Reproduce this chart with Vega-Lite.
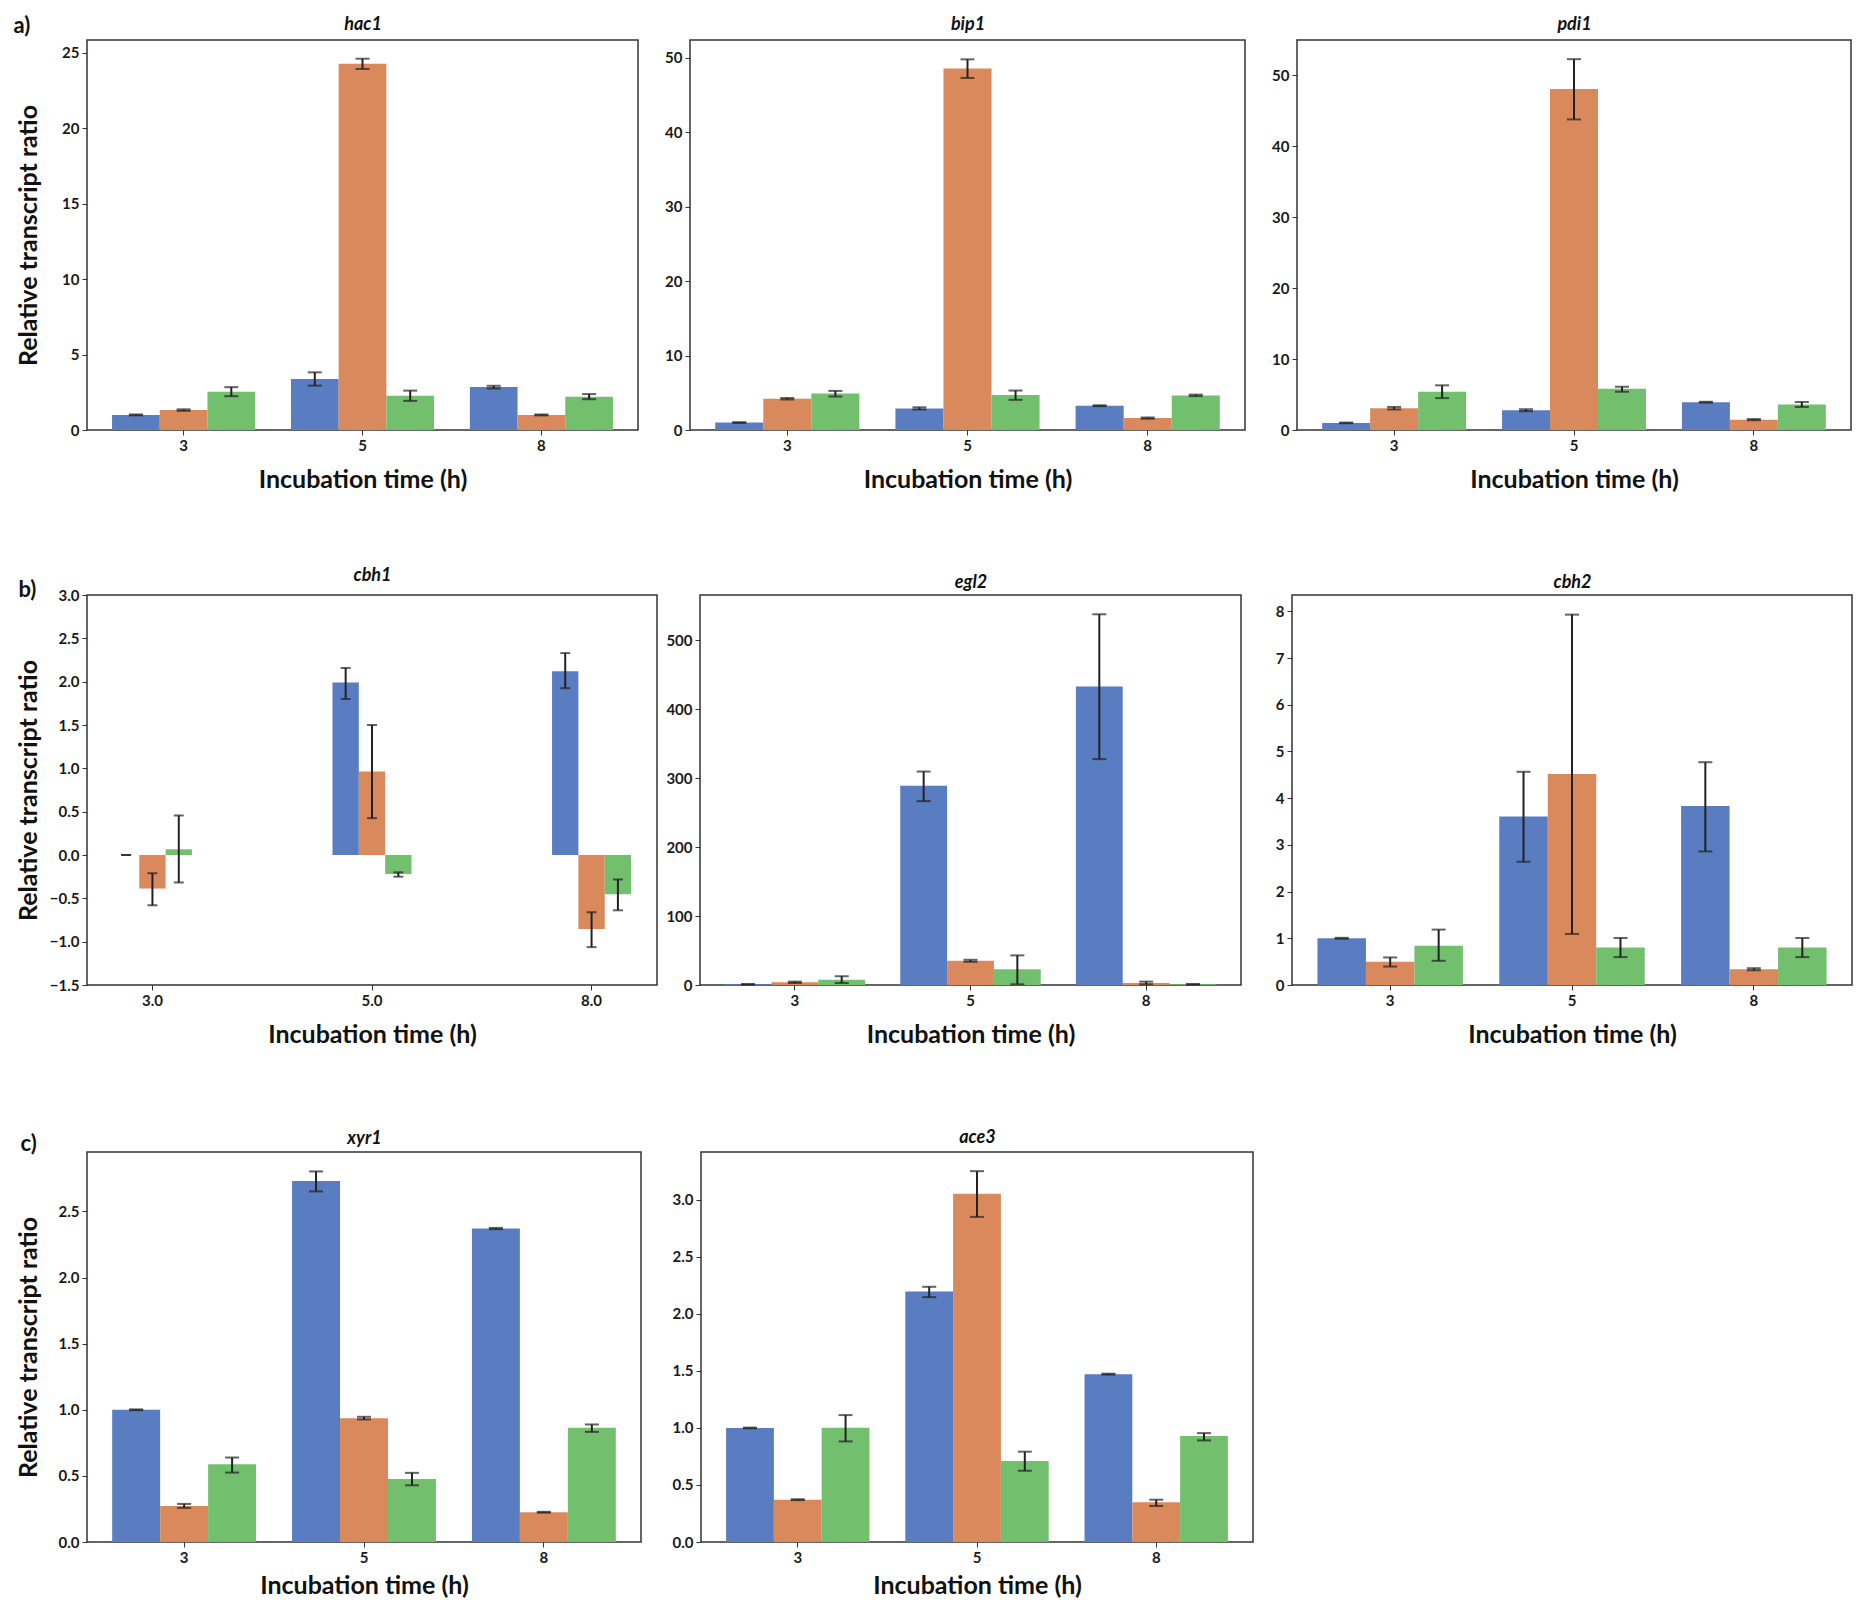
{
  "$schema": "https://vega.github.io/schema/vega-lite/v6.json",
  "background": "white",
  "padding": {"left": 12, "top": 13, "right": 4, "bottom": 4},
  "config": {
    "font": "Lato",
    "view": {"stroke": "#333333", "strokeWidth": 1.5},
    "axis": {"labelFont": "Lato", "labelFontSize": 15, "labelFontWeight": "bold", "labelColor": "#1a1a1a", "titleFont": "Lato", "titleFontSize": 25, "titleFontWeight": "bold", "titleColor": "#111111", "tickColor": "#333333", "tickSize": 5, "domain": false, "grid": false, "labelPadding": 3},
    "axisX": {"labelAngle": 0, "titlePadding": 14},
    "bar": {"stroke": null}
  },
  "datasets": {
    "d": [
      {"gene": "hac1", "time": "3", "cond": "c1", "value": 1.0, "lo": 0.97, "hi": 1.03},
      {"gene": "hac1", "time": "3", "cond": "c2", "value": 1.32, "lo": 1.27, "hi": 1.37},
      {"gene": "hac1", "time": "3", "cond": "c3", "value": 2.54, "lo": 2.24, "hi": 2.84},
      {"gene": "hac1", "time": "5", "cond": "c1", "value": 3.38, "lo": 2.94, "hi": 3.82},
      {"gene": "hac1", "time": "5", "cond": "c2", "value": 24.27, "lo": 23.92, "hi": 24.6},
      {"gene": "hac1", "time": "5", "cond": "c3", "value": 2.27, "lo": 1.93, "hi": 2.61},
      {"gene": "hac1", "time": "8", "cond": "c1", "value": 2.85, "lo": 2.75, "hi": 2.93},
      {"gene": "hac1", "time": "8", "cond": "c2", "value": 1.0, "lo": 0.97, "hi": 1.03},
      {"gene": "hac1", "time": "8", "cond": "c3", "value": 2.21, "lo": 2.04, "hi": 2.38},

      {"gene": "bip1", "time": "3", "cond": "c1", "value": 1.0, "lo": 0.95, "hi": 1.05},
      {"gene": "bip1", "time": "3", "cond": "c2", "value": 4.2, "lo": 4.1, "hi": 4.3},
      {"gene": "bip1", "time": "3", "cond": "c3", "value": 4.9, "lo": 4.5, "hi": 5.25},
      {"gene": "bip1", "time": "5", "cond": "c1", "value": 2.9, "lo": 2.75, "hi": 3.05},
      {"gene": "bip1", "time": "5", "cond": "c2", "value": 48.57, "lo": 47.3, "hi": 49.8},
      {"gene": "bip1", "time": "5", "cond": "c3", "value": 4.7, "lo": 4.05, "hi": 5.3},
      {"gene": "bip1", "time": "8", "cond": "c1", "value": 3.26, "lo": 3.2, "hi": 3.32},
      {"gene": "bip1", "time": "8", "cond": "c2", "value": 1.6, "lo": 1.52, "hi": 1.68},
      {"gene": "bip1", "time": "8", "cond": "c3", "value": 4.65, "lo": 4.55, "hi": 4.75},

      {"gene": "pdi1", "time": "3", "cond": "c1", "value": 1.0, "lo": 0.95, "hi": 1.05},
      {"gene": "pdi1", "time": "3", "cond": "c2", "value": 3.07, "lo": 2.9, "hi": 3.25},
      {"gene": "pdi1", "time": "3", "cond": "c3", "value": 5.38, "lo": 4.5, "hi": 6.3},
      {"gene": "pdi1", "time": "5", "cond": "c1", "value": 2.79, "lo": 2.65, "hi": 2.93},
      {"gene": "pdi1", "time": "5", "cond": "c2", "value": 48.1, "lo": 43.8, "hi": 52.3},
      {"gene": "pdi1", "time": "5", "cond": "c3", "value": 5.8, "lo": 5.4, "hi": 6.1},
      {"gene": "pdi1", "time": "8", "cond": "c1", "value": 3.92, "lo": 3.86, "hi": 3.98},
      {"gene": "pdi1", "time": "8", "cond": "c2", "value": 1.46, "lo": 1.38, "hi": 1.54},
      {"gene": "pdi1", "time": "8", "cond": "c3", "value": 3.59, "lo": 3.25, "hi": 3.95},

      {"gene": "cbh1", "time": "3", "cond": "c1", "value": 0.0, "lo": 0.0, "hi": 0.0},
      {"gene": "cbh1", "time": "3", "cond": "c2", "value": -0.387, "lo": -0.58, "hi": -0.21},
      {"gene": "cbh1", "time": "3", "cond": "c3", "value": 0.066, "lo": -0.317, "hi": 0.456},
      {"gene": "cbh1", "time": "5", "cond": "c1", "value": 1.99, "lo": 1.8, "hi": 2.157},
      {"gene": "cbh1", "time": "5", "cond": "c2", "value": 0.963, "lo": 0.425, "hi": 1.5},
      {"gene": "cbh1", "time": "5", "cond": "c3", "value": -0.22, "lo": -0.25, "hi": -0.2},
      {"gene": "cbh1", "time": "8", "cond": "c1", "value": 2.12, "lo": 1.925, "hi": 2.33},
      {"gene": "cbh1", "time": "8", "cond": "c2", "value": -0.854, "lo": -1.063, "hi": -0.66},
      {"gene": "cbh1", "time": "8", "cond": "c3", "value": -0.452, "lo": -0.638, "hi": -0.282},

      {"gene": "egl2", "time": "3", "cond": "c1", "value": 1.0, "lo": 0.5, "hi": 1.5},
      {"gene": "egl2", "time": "3", "cond": "c2", "value": 3.9, "lo": 2.9, "hi": 4.9},
      {"gene": "egl2", "time": "3", "cond": "c3", "value": 7.8, "lo": 2.9, "hi": 12.7},
      {"gene": "egl2", "time": "5", "cond": "c1", "value": 289.3, "lo": 266.8, "hi": 309.8},
      {"gene": "egl2", "time": "5", "cond": "c2", "value": 35.1, "lo": 33.6, "hi": 36.6},
      {"gene": "egl2", "time": "5", "cond": "c3", "value": 22.9, "lo": 1.0, "hi": 43.0},
      {"gene": "egl2", "time": "8", "cond": "c1", "value": 433.2, "lo": 327.8, "hi": 538.0},
      {"gene": "egl2", "time": "8", "cond": "c2", "value": 2.9, "lo": 0.9, "hi": 4.9},
      {"gene": "egl2", "time": "8", "cond": "c3", "value": 1.0, "lo": 0.5, "hi": 1.5},

      {"gene": "cbh2", "time": "3", "cond": "c1", "value": 1.0, "lo": 0.99, "hi": 1.01},
      {"gene": "cbh2", "time": "3", "cond": "c2", "value": 0.5, "lo": 0.395, "hi": 0.59},
      {"gene": "cbh2", "time": "3", "cond": "c3", "value": 0.84, "lo": 0.518, "hi": 1.186},
      {"gene": "cbh2", "time": "5", "cond": "c1", "value": 3.61, "lo": 2.638, "hi": 4.565},
      {"gene": "cbh2", "time": "5", "cond": "c2", "value": 4.515, "lo": 1.093, "hi": 7.93},
      {"gene": "cbh2", "time": "5", "cond": "c3", "value": 0.805, "lo": 0.597, "hi": 1.006},
      {"gene": "cbh2", "time": "8", "cond": "c1", "value": 3.83, "lo": 2.86, "hi": 4.77},
      {"gene": "cbh2", "time": "8", "cond": "c2", "value": 0.338, "lo": 0.315, "hi": 0.36},
      {"gene": "cbh2", "time": "8", "cond": "c3", "value": 0.805, "lo": 0.597, "hi": 1.006},

      {"gene": "xyr1", "time": "3", "cond": "c1", "value": 1.0, "lo": 0.997, "hi": 1.003},
      {"gene": "xyr1", "time": "3", "cond": "c2", "value": 0.273, "lo": 0.258, "hi": 0.288},
      {"gene": "xyr1", "time": "3", "cond": "c3", "value": 0.588, "lo": 0.525, "hi": 0.639},
      {"gene": "xyr1", "time": "5", "cond": "c1", "value": 2.73, "lo": 2.652, "hi": 2.803},
      {"gene": "xyr1", "time": "5", "cond": "c2", "value": 0.937, "lo": 0.927, "hi": 0.947},
      {"gene": "xyr1", "time": "5", "cond": "c3", "value": 0.477, "lo": 0.429, "hi": 0.523},
      {"gene": "xyr1", "time": "8", "cond": "c1", "value": 2.371, "lo": 2.366, "hi": 2.376},
      {"gene": "xyr1", "time": "8", "cond": "c2", "value": 0.225, "lo": 0.222, "hi": 0.228},
      {"gene": "xyr1", "time": "8", "cond": "c3", "value": 0.864, "lo": 0.833, "hi": 0.889},

      {"gene": "ace3", "time": "3", "cond": "c1", "value": 1.0, "lo": 0.997, "hi": 1.003},
      {"gene": "ace3", "time": "3", "cond": "c2", "value": 0.371, "lo": 0.367, "hi": 0.375},
      {"gene": "ace3", "time": "3", "cond": "c3", "value": 1.002, "lo": 0.882, "hi": 1.113},
      {"gene": "ace3", "time": "5", "cond": "c1", "value": 2.197, "lo": 2.147, "hi": 2.238},
      {"gene": "ace3", "time": "5", "cond": "c2", "value": 3.053, "lo": 2.851, "hi": 3.252},
      {"gene": "ace3", "time": "5", "cond": "c3", "value": 0.71, "lo": 0.625, "hi": 0.792},
      {"gene": "ace3", "time": "8", "cond": "c1", "value": 1.472, "lo": 1.468, "hi": 1.476},
      {"gene": "ace3", "time": "8", "cond": "c2", "value": 0.348, "lo": 0.316, "hi": 0.371},
      {"gene": "ace3", "time": "8", "cond": "c3", "value": 0.929, "lo": 0.891, "hi": 0.955}
    ]
  },
  "spacing": 79,
  "resolve": {"scale": {"xOffset": "independent"}},
  "vconcat": [
    {
      "spacing": 72,
      "resolve": {"scale": {"xOffset": "independent"}},
      "vconcat": [
        {
          "spacing": 24,
          "resolve": {"scale": {"xOffset": "independent"}},
          "hconcat": [
            {
              "width": 551, "height": 390,
              "data": {"name": "d"},
              "transform": [{"filter": "datum.gene == 'hac1'"}],
              "resolve": {"axis": {"x": "independent", "y": "independent"}},
              "encoding": {
                "x": {"field": "time", "type": "nominal", "sort": ["3", "5", "8"], "scale": {"paddingInner": 0.2, "paddingOuter": 0.14}, "axis": null},
                "xOffset": {"field": "cond", "type": "nominal", "sort": ["c1", "c2", "c3"], "scale": {"paddingInner": 0, "paddingOuter": 0}}
              },
              "layer": [
                {"mark": "bar", "encoding": {
                  "x": {"field": "time", "type": "nominal", "sort": ["3", "5", "8"], "scale": {"paddingInner": 0.2, "paddingOuter": 0.14}, "axis": {"title": "Incubation time (h)"}},
                  "y": {"field": "value", "type": "quantitative", "scale": {"domain": [0, 25.84], "nice": false}, "axis": {"values": [0, 5, 10, 15, 20, 25], "title": "Relative transcript ratio", "titleX": -59, "titleAlign": "center", "titleBaseline": "middle"}},
                  "color": {"field": "cond", "type": "nominal", "scale": {"domain": ["c1", "c2", "c3"], "range": ["#5a7cc0", "#d9895b", "#72c06e"]}, "legend": null}}},
                {"mark": {"type": "rule", "color": "#222222", "strokeWidth": 2}, "encoding": {"y": {"field": "lo", "type": "quantitative", "axis": null}, "y2": {"field": "hi"}}},
                {"mark": {"type": "tick", "color": "#222222", "thickness": 2, "size": 14}, "encoding": {"y": {"field": "lo", "type": "quantitative", "axis": null}}},
                {"mark": {"type": "tick", "color": "#222222", "thickness": 2, "size": 14}, "encoding": {
                  "x": {"field": "time", "type": "nominal", "sort": ["3", "5", "8"], "scale": {"paddingInner": 0.2, "paddingOuter": 0.14}, "axis": {"orient": "top", "title": "hac1", "labels": false, "ticks": false, "domain": false, "titleY": -16, "titleBaseline": "middle", "titleFontSize": 18, "titleFontStyle": "italic", "titlePadding": 0}},
                  "y": {"field": "hi", "type": "quantitative", "axis": {"orient": "left", "labels": false, "ticks": false, "domain": false, "title": "a)", "titleAngle": 0, "titleX": -74, "titleY": -15, "titleAlign": "left", "titleBaseline": "middle", "titleFontSize": 22, "titlePadding": 0}}}}
              ]
            },
            {
              "width": 555, "height": 390,
              "data": {"name": "d"},
              "transform": [{"filter": "datum.gene == 'bip1'"}],
              "resolve": {"axis": {"x": "independent", "y": "independent"}},
              "encoding": {
                "x": {"field": "time", "type": "nominal", "sort": ["3", "5", "8"], "scale": {"paddingInner": 0.2, "paddingOuter": 0.14}, "axis": null},
                "xOffset": {"field": "cond", "type": "nominal", "sort": ["c1", "c2", "c3"], "scale": {"paddingInner": 0, "paddingOuter": 0}}
              },
              "layer": [
                {"mark": "bar", "encoding": {
                  "x": {"field": "time", "type": "nominal", "sort": ["3", "5", "8"], "scale": {"paddingInner": 0.2, "paddingOuter": 0.14}, "axis": {"title": "Incubation time (h)"}},
                  "y": {"field": "value", "type": "quantitative", "scale": {"domain": [0, 52.4], "nice": false}, "axis": {"values": [0, 10, 20, 30, 40, 50], "title": null}},
                  "color": {"field": "cond", "type": "nominal", "scale": {"domain": ["c1", "c2", "c3"], "range": ["#5a7cc0", "#d9895b", "#72c06e"]}, "legend": null}}},
                {"mark": {"type": "rule", "color": "#222222", "strokeWidth": 2}, "encoding": {"y": {"field": "lo", "type": "quantitative", "axis": null}, "y2": {"field": "hi"}}},
                {"mark": {"type": "tick", "color": "#222222", "thickness": 2, "size": 14}, "encoding": {"y": {"field": "lo", "type": "quantitative", "axis": null}}},
                {"mark": {"type": "tick", "color": "#222222", "thickness": 2, "size": 14}, "encoding": {
                  "x": {"field": "time", "type": "nominal", "sort": ["3", "5", "8"], "scale": {"paddingInner": 0.2, "paddingOuter": 0.14}, "axis": {"orient": "top", "title": "bip1", "labels": false, "ticks": false, "domain": false, "titleY": -16, "titleBaseline": "middle", "titleFontSize": 18, "titleFontStyle": "italic", "titlePadding": 0}},
                  "y": {"field": "hi", "type": "quantitative", "axis": null}}}
              ]
            },
            {
              "width": 554, "height": 390,
              "data": {"name": "d"},
              "transform": [{"filter": "datum.gene == 'pdi1'"}],
              "resolve": {"axis": {"x": "independent", "y": "independent"}},
              "encoding": {
                "x": {"field": "time", "type": "nominal", "sort": ["3", "5", "8"], "scale": {"paddingInner": 0.2, "paddingOuter": 0.14}, "axis": null},
                "xOffset": {"field": "cond", "type": "nominal", "sort": ["c1", "c2", "c3"], "scale": {"paddingInner": 0, "paddingOuter": 0}}
              },
              "layer": [
                {"mark": "bar", "encoding": {
                  "x": {"field": "time", "type": "nominal", "sort": ["3", "5", "8"], "scale": {"paddingInner": 0.2, "paddingOuter": 0.14}, "axis": {"title": "Incubation time (h)"}},
                  "y": {"field": "value", "type": "quantitative", "scale": {"domain": [0, 55.0], "nice": false}, "axis": {"values": [0, 10, 20, 30, 40, 50], "title": null}},
                  "color": {"field": "cond", "type": "nominal", "scale": {"domain": ["c1", "c2", "c3"], "range": ["#5a7cc0", "#d9895b", "#72c06e"]}, "legend": null}}},
                {"mark": {"type": "rule", "color": "#222222", "strokeWidth": 2}, "encoding": {"y": {"field": "lo", "type": "quantitative", "axis": null}, "y2": {"field": "hi"}}},
                {"mark": {"type": "tick", "color": "#222222", "thickness": 2, "size": 14}, "encoding": {"y": {"field": "lo", "type": "quantitative", "axis": null}}},
                {"mark": {"type": "tick", "color": "#222222", "thickness": 2, "size": 14}, "encoding": {
                  "x": {"field": "time", "type": "nominal", "sort": ["3", "5", "8"], "scale": {"paddingInner": 0.2, "paddingOuter": 0.14}, "axis": {"orient": "top", "title": "pdi1", "labels": false, "ticks": false, "domain": false, "titleY": -16, "titleBaseline": "middle", "titleFontSize": 18, "titleFontStyle": "italic", "titlePadding": 0}},
                  "y": {"field": "hi", "type": "quantitative", "axis": null}}}
              ]
            }
          ]
        },
        {
          "spacing": 7,
          "resolve": {"scale": {"xOffset": "independent"}},
          "hconcat": [
            {
              "width": 570, "height": 390,
              "data": {"name": "d"},
              "transform": [{"filter": "datum.gene == 'cbh1'"}],
              "resolve": {"axis": {"x": "independent", "y": "independent"}},
              "encoding": {
                "x": {"field": "time", "type": "nominal", "sort": ["3", "5", "8"], "scale": {"paddingInner": 0.64, "paddingOuter": 0.118}, "axis": null},
                "xOffset": {"field": "cond", "type": "nominal", "sort": ["c1", "c2", "c3"], "scale": {"paddingInner": 0, "paddingOuter": 0}}
              },
              "layer": [
                {"mark": "bar", "encoding": {
                  "x": {"field": "time", "type": "nominal", "sort": ["3", "5", "8"], "scale": {"paddingInner": 0.64, "paddingOuter": 0.118}, "axis": {"title": "Incubation time (h)", "labelExpr": "datum.value + '.0'"}},
                  "y": {"field": "value", "type": "quantitative", "scale": {"domain": [-1.5, 3.0], "nice": false}, "axis": {"values": [-1.5, -1.0, -0.5, 0, 0.5, 1.0, 1.5, 2.0, 2.5, 3.0], "format": ".1f", "title": "Relative transcript ratio", "titleX": -59, "titleAlign": "center", "titleBaseline": "middle"}},
                  "color": {"field": "cond", "type": "nominal", "scale": {"domain": ["c1", "c2", "c3"], "range": ["#5a7cc0", "#d9895b", "#72c06e"]}, "legend": null}}},
                {"mark": {"type": "rule", "color": "#222222", "strokeWidth": 2}, "encoding": {"y": {"field": "lo", "type": "quantitative", "axis": null}, "y2": {"field": "hi"}}},
                {"mark": {"type": "tick", "color": "#222222", "thickness": 2, "size": 10}, "encoding": {"y": {"field": "lo", "type": "quantitative", "axis": null}}},
                {"mark": {"type": "tick", "color": "#222222", "thickness": 2, "size": 10}, "encoding": {
                  "x": {"field": "time", "type": "nominal", "sort": ["3", "5", "8"], "scale": {"paddingInner": 0.64, "paddingOuter": 0.118}, "axis": {"orient": "top", "title": "cbh1", "labels": false, "ticks": false, "domain": false, "titleY": -20, "titleBaseline": "middle", "titleFontSize": 18, "titleFontStyle": "italic", "titlePadding": 0}},
                  "y": {"field": "hi", "type": "quantitative", "axis": {"orient": "left", "labels": false, "ticks": false, "domain": false, "title": "b)", "titleAngle": 0, "titleX": -69, "titleY": -6, "titleAlign": "left", "titleBaseline": "middle", "titleFontSize": 22, "titlePadding": 0}}}}
              ]
            },
            {
              "spacing": 32,
              "resolve": {"scale": {"xOffset": "independent"}},
              "hconcat": [
                {
                  "width": 541, "height": 390,
                  "data": {"name": "d"},
                  "transform": [{"filter": "datum.gene == 'egl2'"}],
                  "resolve": {"axis": {"x": "independent", "y": "independent"}},
                  "encoding": {
                    "x": {"field": "time", "type": "nominal", "sort": ["3", "5", "8"], "scale": {"paddingInner": 0.2, "paddingOuter": 0.14}, "axis": null},
                    "xOffset": {"field": "cond", "type": "nominal", "sort": ["c1", "c2", "c3"], "scale": {"paddingInner": 0, "paddingOuter": 0}}
                  },
                  "layer": [
                    {"mark": "bar", "encoding": {
                      "x": {"field": "time", "type": "nominal", "sort": ["3", "5", "8"], "scale": {"paddingInner": 0.2, "paddingOuter": 0.14}, "axis": {"title": "Incubation time (h)"}},
                      "y": {"field": "value", "type": "quantitative", "scale": {"domain": [0, 566], "nice": false}, "axis": {"values": [0, 100, 200, 300, 400, 500], "title": null}},
                      "color": {"field": "cond", "type": "nominal", "scale": {"domain": ["c1", "c2", "c3"], "range": ["#5a7cc0", "#d9895b", "#72c06e"]}, "legend": null}}},
                    {"mark": {"type": "rule", "color": "#222222", "strokeWidth": 2}, "encoding": {"y": {"field": "lo", "type": "quantitative", "axis": null}, "y2": {"field": "hi"}}},
                    {"mark": {"type": "tick", "color": "#222222", "thickness": 2, "size": 14}, "encoding": {"y": {"field": "lo", "type": "quantitative", "axis": null}}},
                    {"mark": {"type": "tick", "color": "#222222", "thickness": 2, "size": 14}, "encoding": {
                      "x": {"field": "time", "type": "nominal", "sort": ["3", "5", "8"], "scale": {"paddingInner": 0.2, "paddingOuter": 0.14}, "axis": {"orient": "top", "title": "egl2", "labels": false, "ticks": false, "domain": false, "titleY": -13, "titleBaseline": "middle", "titleFontSize": 18, "titleFontStyle": "italic", "titlePadding": 0}},
                      "y": {"field": "hi", "type": "quantitative", "axis": null}}}
                  ]
                },
                {
                  "width": 560, "height": 390,
                  "data": {"name": "d"},
                  "transform": [{"filter": "datum.gene == 'cbh2'"}],
                  "resolve": {"axis": {"x": "independent", "y": "independent"}},
                  "encoding": {
                    "x": {"field": "time", "type": "nominal", "sort": ["3", "5", "8"], "scale": {"paddingInner": 0.2, "paddingOuter": 0.14}, "axis": null},
                    "xOffset": {"field": "cond", "type": "nominal", "sort": ["c1", "c2", "c3"], "scale": {"paddingInner": 0, "paddingOuter": 0}}
                  },
                  "layer": [
                    {"mark": "bar", "encoding": {
                      "x": {"field": "time", "type": "nominal", "sort": ["3", "5", "8"], "scale": {"paddingInner": 0.2, "paddingOuter": 0.14}, "axis": {"title": "Incubation time (h)"}},
                      "y": {"field": "value", "type": "quantitative", "scale": {"domain": [0, 8.35], "nice": false}, "axis": {"values": [0, 1, 2, 3, 4, 5, 6, 7, 8], "title": null}},
                      "color": {"field": "cond", "type": "nominal", "scale": {"domain": ["c1", "c2", "c3"], "range": ["#5a7cc0", "#d9895b", "#72c06e"]}, "legend": null}}},
                    {"mark": {"type": "rule", "color": "#222222", "strokeWidth": 2}, "encoding": {"y": {"field": "lo", "type": "quantitative", "axis": null}, "y2": {"field": "hi"}}},
                    {"mark": {"type": "tick", "color": "#222222", "thickness": 2, "size": 14}, "encoding": {"y": {"field": "lo", "type": "quantitative", "axis": null}}},
                    {"mark": {"type": "tick", "color": "#222222", "thickness": 2, "size": 14}, "encoding": {
                      "x": {"field": "time", "type": "nominal", "sort": ["3", "5", "8"], "scale": {"paddingInner": 0.2, "paddingOuter": 0.14}, "axis": {"orient": "top", "title": "cbh2", "labels": false, "ticks": false, "domain": false, "titleY": -13, "titleBaseline": "middle", "titleFontSize": 18, "titleFontStyle": "italic", "titlePadding": 0}},
                      "y": {"field": "hi", "type": "quantitative", "axis": null}}}
                  ]
                }
              ]
            }
          ]
        }
      ]
    },
    {
      "spacing": 29,
      "resolve": {"scale": {"xOffset": "independent"}},
      "hconcat": [
        {
          "width": 554, "height": 390,
          "data": {"name": "d"},
          "transform": [{"filter": "datum.gene == 'xyr1'"}],
          "resolve": {"axis": {"x": "independent", "y": "independent"}},
          "encoding": {
            "x": {"field": "time", "type": "nominal", "sort": ["3", "5", "8"], "scale": {"paddingInner": 0.2, "paddingOuter": 0.14}, "axis": null},
            "xOffset": {"field": "cond", "type": "nominal", "sort": ["c1", "c2", "c3"], "scale": {"paddingInner": 0, "paddingOuter": 0}}
          },
          "layer": [
            {"mark": "bar", "encoding": {
              "x": {"field": "time", "type": "nominal", "sort": ["3", "5", "8"], "scale": {"paddingInner": 0.2, "paddingOuter": 0.14}, "axis": {"title": "Incubation time (h)", "titlePadding": 8}},
              "y": {"field": "value", "type": "quantitative", "scale": {"domain": [0, 2.95], "nice": false}, "axis": {"values": [0, 0.5, 1.0, 1.5, 2.0, 2.5], "format": ".1f", "title": "Relative transcript ratio", "titleX": -59, "titleAlign": "center", "titleBaseline": "middle"}},
              "color": {"field": "cond", "type": "nominal", "scale": {"domain": ["c1", "c2", "c3"], "range": ["#5a7cc0", "#d9895b", "#72c06e"]}, "legend": null}}},
            {"mark": {"type": "rule", "color": "#222222", "strokeWidth": 2}, "encoding": {"y": {"field": "lo", "type": "quantitative", "axis": null}, "y2": {"field": "hi"}}},
            {"mark": {"type": "tick", "color": "#222222", "thickness": 2, "size": 14}, "encoding": {"y": {"field": "lo", "type": "quantitative", "axis": null}}},
            {"mark": {"type": "tick", "color": "#222222", "thickness": 2, "size": 14}, "encoding": {
              "x": {"field": "time", "type": "nominal", "sort": ["3", "5", "8"], "scale": {"paddingInner": 0.2, "paddingOuter": 0.14}, "axis": {"orient": "top", "title": "xyr1", "labels": false, "ticks": false, "domain": false, "titleY": -14, "titleBaseline": "middle", "titleFontSize": 18, "titleFontStyle": "italic", "titlePadding": 0}},
              "y": {"field": "hi", "type": "quantitative", "axis": {"orient": "left", "labels": false, "ticks": false, "domain": false, "title": "c)", "titleAngle": 0, "titleX": -67, "titleY": -9, "titleAlign": "left", "titleBaseline": "middle", "titleFontSize": 22, "titlePadding": 0}}}}
          ]
        },
        {
          "width": 552, "height": 390,
          "data": {"name": "d"},
          "transform": [{"filter": "datum.gene == 'ace3'"}],
          "resolve": {"axis": {"x": "independent", "y": "independent"}},
          "encoding": {
            "x": {"field": "time", "type": "nominal", "sort": ["3", "5", "8"], "scale": {"paddingInner": 0.2, "paddingOuter": 0.14}, "axis": null},
            "xOffset": {"field": "cond", "type": "nominal", "sort": ["c1", "c2", "c3"], "scale": {"paddingInner": 0, "paddingOuter": 0}}
          },
          "layer": [
            {"mark": "bar", "encoding": {
              "x": {"field": "time", "type": "nominal", "sort": ["3", "5", "8"], "scale": {"paddingInner": 0.2, "paddingOuter": 0.14}, "axis": {"title": "Incubation time (h)", "titlePadding": 8}},
              "y": {"field": "value", "type": "quantitative", "scale": {"domain": [0, 3.42], "nice": false}, "axis": {"values": [0, 0.5, 1.0, 1.5, 2.0, 2.5, 3.0], "format": ".1f", "title": null}},
              "color": {"field": "cond", "type": "nominal", "scale": {"domain": ["c1", "c2", "c3"], "range": ["#5a7cc0", "#d9895b", "#72c06e"]}, "legend": null}}},
            {"mark": {"type": "rule", "color": "#222222", "strokeWidth": 2}, "encoding": {"y": {"field": "lo", "type": "quantitative", "axis": null}, "y2": {"field": "hi"}}},
            {"mark": {"type": "tick", "color": "#222222", "thickness": 2, "size": 14}, "encoding": {"y": {"field": "lo", "type": "quantitative", "axis": null}}},
            {"mark": {"type": "tick", "color": "#222222", "thickness": 2, "size": 14}, "encoding": {
              "x": {"field": "time", "type": "nominal", "sort": ["3", "5", "8"], "scale": {"paddingInner": 0.2, "paddingOuter": 0.14}, "axis": {"orient": "top", "title": "ace3", "labels": false, "ticks": false, "domain": false, "titleY": -15, "titleBaseline": "middle", "titleFontSize": 18, "titleFontStyle": "italic", "titlePadding": 0}},
              "y": {"field": "hi", "type": "quantitative", "axis": null}}}
          ]
        }
      ]
    }
  ]
}
